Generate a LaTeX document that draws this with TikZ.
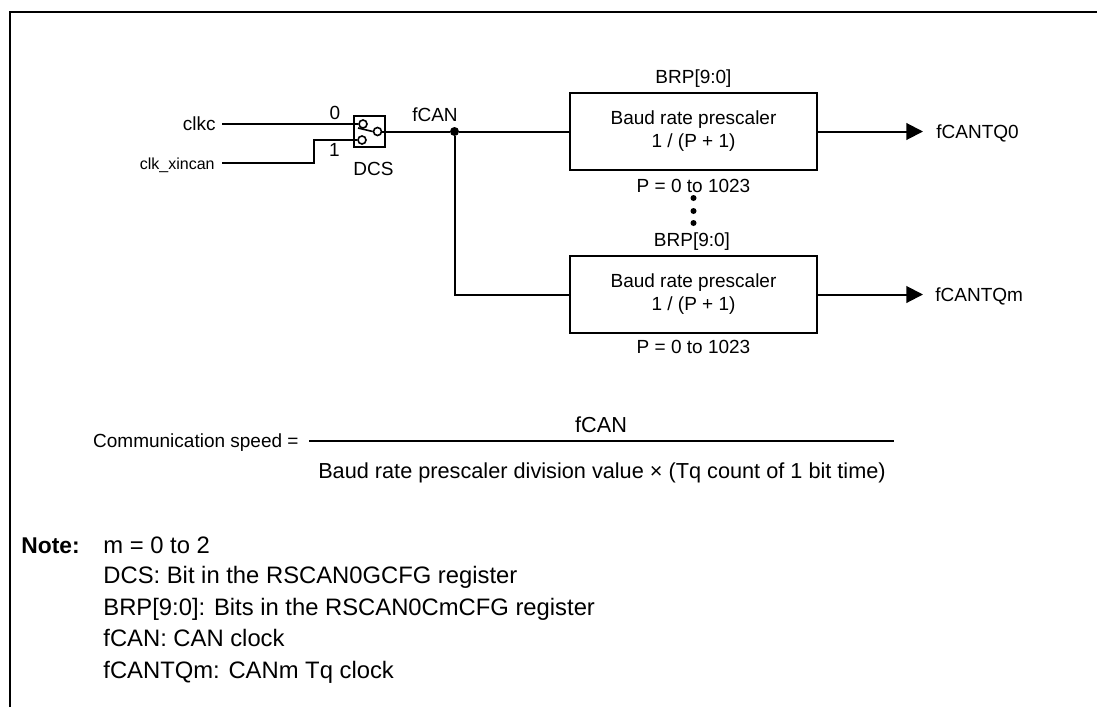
\documentclass[tikz,border=0pt]{standalone}
\usepackage{fontspec}
\setmainfont{Liberation Sans}
\usetikzlibrary{arrows.meta}

\tikzset{
  lbl/.style = {inner sep = 0pt, text height = 6.8pt, text depth = 0pt, font = \fontsize{9.5}{11.5}\selectfont},
  formula/.style = {inner sep = 0pt, text height = 7.8pt, text depth = 0pt, font = \fontsize{10.85}{13}\selectfont},
  remark/.style = {inner sep = 0pt, anchor = west, text height = 8.6pt, text depth = 0pt, font = \fontsize{11.9}{14}\selectfont},
  wire/.style = {line width = 1pt},
  prescaler/.style = {draw, line width = 1pt, minimum width = 123.5pt, minimum height = 38.5pt, inner sep = 0pt, align = center, font = \fontsize{9.5}{11.5}\selectfont},
  contact/.style = {circle, draw, line width = .8pt, fill = white, minimum size = 4pt, inner sep = 0pt},
  blob/.style = {circle, fill, minimum size = 4.5pt, inner sep = 0pt}
}

\begin{document}
\begin{tikzpicture}[x = .5pt, y = -.5pt]
\useasboundingbox (0,0) rectangle (1097,707);

% frame, open at the bottom and on the right
\draw[line width = 1pt] (10,707) -- (10,12) -- (1097,12);

% selector
\node[draw, line width = 1pt, minimum size = 15.5pt, inner sep = 0pt] (dcs) at (369.5,131.5) {};
\coordinate (bend) at (314,140);
\node[lbl, anchor = east, inner xsep = 3pt] (clkc) at (222,124) {clkc};
\node[lbl, anchor = east, inner xsep = 3.5pt, font = \fontsize{8}{10}\selectfont] (xincan) at (222,163) {clk\_xincan};
\node[contact] (sw0) at (363,124) {};
\node[contact] (sw1) at (362,140) {};
\node[contact] (swout) at (377.5,131.5) {};
\coordinate (arm) at (358,128);

% inputs
\draw[wire] (clkc.east) -- (sw0.west);
\draw[wire] (xincan.east) -| (bend) -- (sw1.west);
\draw[line width = .8pt] (arm) -- (swout.west);
\node[lbl] (in0) at (335,113) {0};
\node[lbl] (in1) at (334.5,150) {1};
\node[lbl] (dcsname) at (373.5,169) {DCS};

% prescaler blocks
\node[prescaler] (bp0) at (693.5,131.5) {Baud rate prescaler\\1 / (P + 1)};
\node[prescaler] (bp1) at (693.5,294.5) {Baud rate prescaler\\1 / (P + 1)};
\node[lbl] (brp0) at (693.5,77) {BRP[9:0]};
\node[lbl] (brp1) at (692,240) {BRP[9:0]};
\node[lbl] (range0) at (693.5,186) {P = 0 to 1023};
\node[lbl] (range1) at (693.5,347) {P = 0 to 1023};

\foreach \y in {198,211,223}{
  \node[blob, minimum size = 3pt] (more\y) at (693.5,\y) {};
}

% fCAN net
\node[blob] (tap) at (454.5,131.5) {};
\node[lbl] (fcan) at (435,115) {fCAN};
\draw[wire] (swout.east) -- (tap) -- (bp0.west);
\draw[wire] (tap) |- (bp1.west);

% outputs
\node[lbl, anchor = west, inner xsep = 6.5pt] (q0) at (923,131.5) {fCANTQ0};
\node[lbl, anchor = west, inner xsep = 6pt] (qm) at (923,294.5) {fCANTQm};
\draw[wire, -{Triangle[length = 8.3pt, width = 8.3pt]}] (bp0.east) -- (q0.west);
\draw[wire, -{Triangle[length = 8.3pt, width = 8.3pt]}] (bp1.east) -- (qm.west);

% formula
\node[lbl, anchor = east] (speed) at (299,441) {Communication speed =};
\node[formula] (num) at (601,425) {fCAN};
\node[formula] (den) at (602,471) {Baud rate prescaler division value × (Tq count of 1 bit time)};
\coordinate (barl) at (309,441);
\coordinate (barr) at (894,441);
\draw[wire] (barl) -- (barr);

% notes
\node[remark, font = \fontsize{11.4}{14}\bfseries] (note) at (21,545) {Note:};
\foreach \y/\t in {545/m = 0 to 2, 575/DCS: Bit in the RSCAN0GCFG register,
  607/BRP[9:0]: Bits in the RSCAN0CmCFG register, 638/fCAN: CAN clock, 670/fCANTQm: CANm Tq clock}{
  \node[remark] (note\y) at (103,\y) {\t};
}

\end{tikzpicture}
\end{document}
